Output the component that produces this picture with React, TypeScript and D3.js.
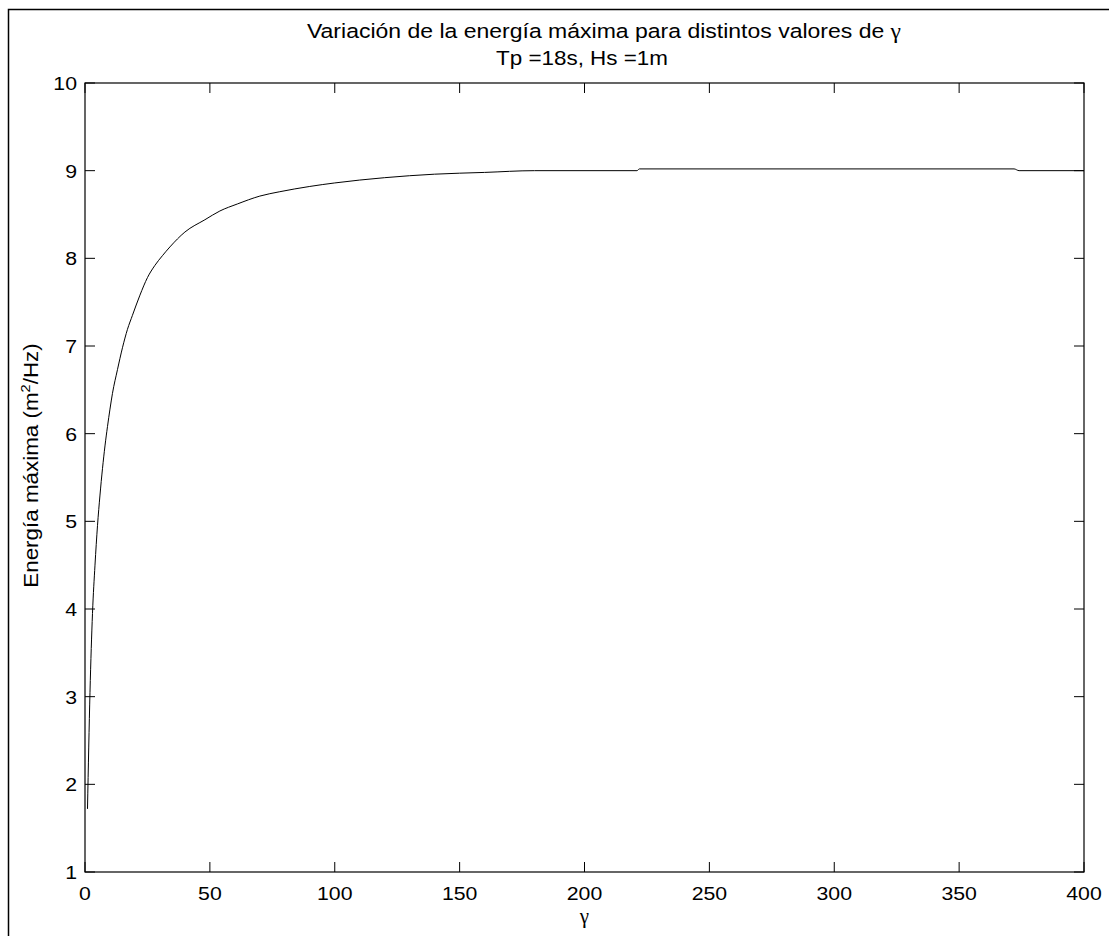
import React from "react";
import * as d3 from "d3";

// Peak spectral energy vs. peak enhancement factor gamma (JONSWAP), Tp = 18 s, Hs = 1 m
const gammaValues = [
  1, 2, 3, 4, 5, 6, 7, 8, 9, 10, 11, 13, 15, 17, 19, 22, 25, 28, 31, 34, 40, 48, 54, 61,
  70, 78, 90, 100, 120, 140, 160, 180, 221, 222, 372, 374, 400,
];
const energyValues = [
  1.72, 3.05, 3.95, 4.5, 4.95, 5.3, 5.6, 5.86, 6.08, 6.28, 6.46, 6.73, 6.98, 7.19, 7.35,
  7.58, 7.78, 7.92, 8.03, 8.13, 8.3, 8.44, 8.54, 8.62, 8.71, 8.76, 8.82, 8.86, 8.92, 8.96,
  8.98, 9.0, 9.0, 9.02, 9.02, 9.0, 9.0,
];
const xTicks = [0, 50, 100, 150, 200, 250, 300, 350, 400];
const yTicks = [1, 2, 3, 4, 5, 6, 7, 8, 9, 10];

const titleLine1 = "Variación de la energía máxima para distintos valores de ";
const gammaSymbol = "γ";
const titleLine2 = "Tp =18s, Hs =1m";

const W = 1109;
const H = 936;
const plot = { left: 85, top: 83, right: 1084, bottom: 872 };
const TICK = 10;
const FONT = "Liberation Sans, Arial, Helvetica, sans-serif";
const SERIF = "Liberation Serif, Times New Roman, serif";
const FS = 19;
const SX = 1.12;

export default function App() {
  const x = d3.scaleLinear().domain([0, 400]).range([plot.left, plot.right]);
  const y = d3.scaleLinear().domain([1, 10]).range([plot.bottom, plot.top]);
  const pts = gammaValues.map((g, i) => [g, energyValues[i]] as [number, number]);
  const line = d3
    .line<[number, number]>()
    .x((d) => x(d[0]))
    .y((d) => y(d[1]))
    .curve(d3.curveMonotoneX);

  const txt = (
    px: number,
    py: number,
    s: React.ReactNode,
    anchor: "start" | "middle" | "end",
    key?: string | number,
    rotate = 0,
    size = FS,
    sx = SX
  ) => (
    <text
      key={key}
      transform={`translate(${px},${py}) rotate(${rotate}) scale(${sx},1)`}
      textAnchor={anchor}
      fontFamily={FONT}
      fontSize={size}
      fill="#000"
    >
      {s}
    </text>
  );

  return (
    <svg
      width={W}
      height={H}
      style={{ position: "absolute", left: 0, top: 0, background: "#fff" }}
    >
      <rect x={0} y={0} width={W} height={H} fill="#fff" />
      {/* figure frame */}
      <rect x={8.5} y={9.5} width={W + 50} height={H + 50} fill="none" stroke="#000" strokeWidth={1.5} />

      {/* axes box */}
      <rect
        x={plot.left}
        y={plot.top}
        width={plot.right - plot.left}
        height={plot.bottom - plot.top}
        fill="#fff"
        stroke="#000"
        strokeWidth={1.2}
      />

      {/* ticks on all four sides, pointing inwards */}
      {xTicks.map((t) => (
        <g key={`xt${t}`} stroke="#000" strokeWidth={1}>
          <line x1={x(t)} x2={x(t)} y1={plot.bottom} y2={plot.bottom - TICK} />
          <line x1={x(t)} x2={x(t)} y1={plot.top} y2={plot.top + TICK} />
        </g>
      ))}
      {yTicks.map((t) => (
        <g key={`yt${t}`} stroke="#000" strokeWidth={1}>
          <line x1={plot.left} x2={plot.left + TICK} y1={y(t)} y2={y(t)} />
          <line x1={plot.right} x2={plot.right - TICK} y1={y(t)} y2={y(t)} />
        </g>
      ))}

      {/* tick labels */}
      {xTicks.map((t) => txt(x(t), 900, String(t), "middle", `xl${t}`))}
      {yTicks.map((t) => txt(plot.left - 8, y(t) + 7, String(t), "end", `yl${t}`))}

      {/* data curve */}
      <path d={line(pts) ?? ""} fill="none" stroke="#000" strokeWidth={1} />

      {/* titles */}
      {txt(
        604,
        38,
        <>
          {titleLine1}
          <tspan fontFamily={SERIF} fontSize={20}>
            {gammaSymbol}
          </tspan>
        </>,
        "middle",
        "t1",
        0,
        19.5,
        1.18
      )}
      {txt(582, 65, titleLine2, "middle", "t2", 0, 19.5, 1.15)}
      <text
        x={x(200)}
        y={923}
        textAnchor="middle"
        fontFamily={SERIF}
        fontSize={21}
        fill="#000"
      >
        {gammaSymbol}
      </text>
      {txt(
        38,
        (plot.top + plot.bottom) / 2 - 12,
        <>
          Energía máxima (m
          <tspan dy={-8} fontSize={13}>
            2
          </tspan>
          <tspan dy={8}>/Hz)</tspan>
        </>,
        "middle",
        "ylab",
        -90,
        20,
        1.12
      )}
    </svg>
  );
}
